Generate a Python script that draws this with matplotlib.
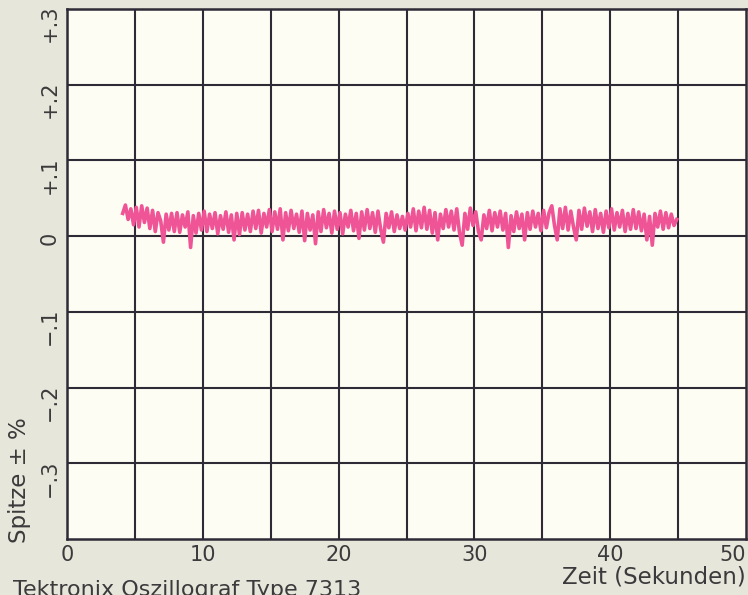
"""
Oscillograph trace: peak deviation (%) over time, drawn on a paper-style grid.
"""
import numpy as np
import matplotlib

matplotlib.use("Agg")
import matplotlib.pyplot as plt

PAPER = "#e7e6da"
PLOT_BG = "#fefdf3"
GRID_INK = "#2e2a36"
TEXT_INK = "#3b3a3c"
TRACE = "#ef5596"

T_START = 4.1
T_STEP = 0.2
PEAK = [
    0.030, 0.041, 0.022, 0.036, 0.015, 0.038, 0.012, 0.040, 0.018, 0.037,
    0.010, 0.034, 0.006, 0.031, 0.020, -0.008, 0.029, 0.008, 0.030, 0.006,
    0.031, 0.005, 0.028, 0.012, 0.032, -0.015, 0.027, 0.004, 0.030, 0.008,
    0.033, 0.006, 0.029, 0.010, 0.031, 0.003, 0.027, 0.009, 0.032, 0.005,
    0.028, -0.005, 0.030, 0.002, 0.031, 0.008, 0.029, 0.006, 0.033, 0.010,
    0.034, 0.004, 0.030, 0.012, 0.035, 0.006, 0.032, 0.009, 0.036, -0.005,
    0.031, 0.007, 0.034, 0.010, 0.029, 0.005, 0.033, -0.006, 0.030, 0.008,
    0.028, -0.010, 0.032, 0.006, 0.035, 0.011, 0.030, 0.004, 0.033, 0.009,
    0.031, 0.003, 0.029, 0.012, 0.034, 0.007, 0.030, -0.003, 0.032, 0.008,
    0.035, 0.010, 0.031, 0.005, 0.033, 0.009, -0.008, 0.030, 0.011, 0.032,
    0.006, 0.028, 0.010, 0.026, 0.008, 0.030, 0.012, 0.036, 0.007, 0.033,
    0.011, 0.038, 0.009, 0.034, 0.004, 0.031, -0.005, 0.029, 0.010, 0.035,
    0.012, 0.033, 0.008, 0.036, 0.005, -0.012, 0.030, 0.009, 0.037, 0.014,
    0.032, 0.006, -0.005, 0.028, 0.010, 0.034, 0.007, 0.031, 0.012, 0.033,
    0.008, 0.030, -0.015, 0.027, 0.006, 0.032, 0.010, 0.029, -0.005, 0.031,
    0.009, 0.033, 0.012, 0.030, 0.007, 0.034, 0.011, 0.031, 0.040, 0.014,
    -0.005, 0.036, 0.010, 0.038, 0.008, 0.033, 0.012, -0.005, 0.034, 0.009,
    0.037, 0.013, 0.032, 0.006, 0.035, 0.010, 0.030, 0.005, 0.033, 0.011,
    0.036, 0.008, 0.031, 0.012, 0.034, 0.006, 0.030, 0.009, 0.035, 0.010,
    0.032, 0.007, 0.029, -0.005, 0.026, -0.012, 0.030, 0.012, 0.033, 0.009,
    0.031, 0.011, 0.029, 0.014, 0.022,
]

X_TICKS = [0, 10, 20, 30, 40, 50]
X_GRID = [5, 10, 15, 20, 25, 30, 35, 40, 45]
Y_GRID = [0.2, 0.1, 0.0, -0.1, -0.2, -0.3]
Y_TICKS = [0.3, 0.2, 0.1, 0.0, -0.1, -0.2, -0.3]
Y_LABELS = ["+.3", "+.2", "+.1", "0", "\u2212.1", "\u2212.2", "\u2212.3"]

plt.rcParams["font.family"] = ["DejaVu Sans"]

fig = plt.figure(figsize=(7.48, 5.95), dpi=100)
fig.patch.set_facecolor(PAPER)
ax = fig.add_axes([0.0896, 0.0941, 0.9077, 0.8909])
ax.set_facecolor(PLOT_BG)

ax.set_xlim(0, 50)
ax.set_ylim(-0.4, 0.3)

for x in X_GRID:
    ax.axvline(x, color=GRID_INK, linewidth=1.5, zorder=1)
for y in Y_GRID:
    ax.axhline(y, color=GRID_INK, linewidth=1.5, zorder=1)
for side in ax.spines.values():
    side.set_color(GRID_INK)
    side.set_linewidth(1.8)

t = T_START + T_STEP * np.arange(len(PEAK))
ax.plot(t, PEAK, color=TRACE, linewidth=2.6, solid_joinstyle="round", zorder=2)

ax.set_xticks([])
ax.set_yticks([])

# x numbers sit just under the frame; baseline kept clear of the axis title
for x in X_TICKS:
    ax.annotate(str(x), xy=(x, 0), xycoords=("data", "axes fraction"),
                xytext=(0, -22), textcoords="offset pixels",
                ha="right" if x == 50 else "center", va="baseline",
                fontsize=15, color=TEXT_INK)

for y, lab in zip(Y_TICKS, Y_LABELS):
    ax.annotate(lab, xy=(0, y), xycoords=("axes fraction", "data"),
                xytext=(-17, 4), textcoords="offset pixels",
                rotation=90, rotation_mode="anchor", ha="right", va="center",
                fontsize=15, color=TEXT_INK)

fig.text(20 / 748, 1 - 480 / 595, "Spitze \u00b1 %", rotation=90,
         ha="center", va="center", fontsize=16.5, color=TEXT_INK)
fig.text(746 / 748, 1 - 583 / 595, "Zeit (Sekunden)", ha="right", va="baseline",
         fontsize=16.5, color=TEXT_INK)
fig.text(13 / 748, 1 - 596 / 595, "Tektronix Oszillograf Type 7313",
         ha="left", va="baseline", fontsize=16, color=TEXT_INK)

fig.savefig("out.png", dpi=100, facecolor=PAPER)
